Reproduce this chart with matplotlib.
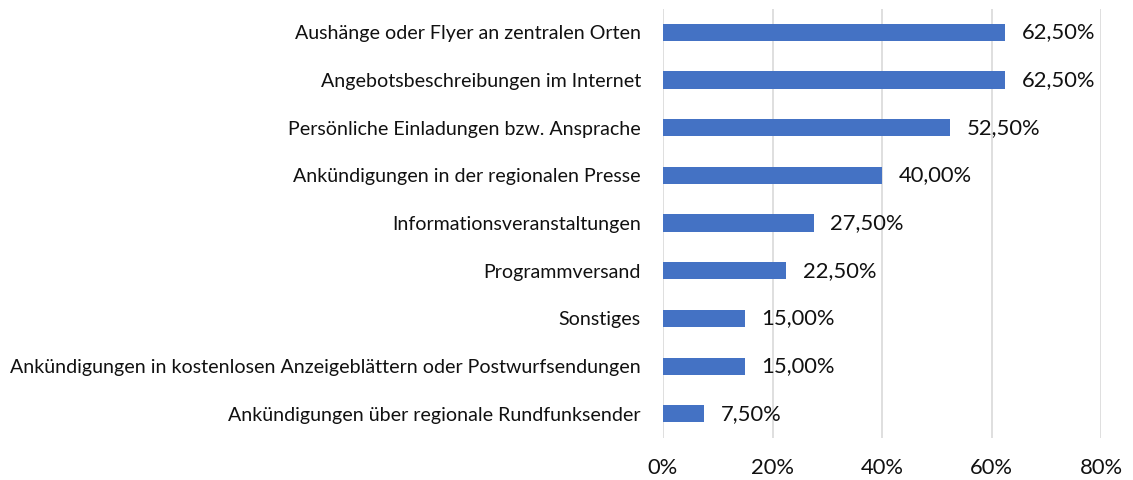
import matplotlib
matplotlib.use("Agg")
import matplotlib.pyplot as plt
from matplotlib.ticker import FixedLocator, FixedFormatter

categories = [
    "Aushänge oder Flyer an zentralen Orten",
    "Angebotsbeschreibungen im Internet",
    "Persönliche Einladungen bzw. Ansprache",
    "Ankündigungen in der regionalen Presse",
    "Informationsveranstaltungen",
    "Programmversand",
    "Sonstiges",
    "Ankündigungen in kostenlosen Anzeigeblättern oder Postwurfsendungen",
    "Ankündigungen über regionale Rundfunksender",
]
values = [62.5, 62.5, 52.5, 40.0, 27.5, 22.5, 15.0, 15.0, 7.5]
xticks = [0, 20, 40, 60, 80]
xtick_labels = ["0%", "20%", "40%", "60%", "80%"]

plt.rcParams['font.family'] = ['Lato', 'DejaVu Sans']

fig = plt.figure(figsize=(11.33, 4.8), dpi=100)
ax = fig.add_axes([663/1133, 1-437.6/480, (1101-663)/1133, (437.6-8.5)/480])

ypos = list(range(len(categories)))
ax.barh(ypos, values, height=0.36, color="#4472C4", zorder=3)
for y, v in zip(ypos, values):
    ax.text(v + 3.0, y, f"{v:.2f}%".replace(".", ","), va="center", ha="left",
            fontsize=15.8, color="#111111")

ax.set_xlim(0, 80)
ax.set_ylim(len(categories) - 0.5, -0.5)
ax.set_yticks(ypos)
ax.set_yticklabels(categories, fontsize=14.15, color="#111111")
ax.xaxis.set_major_locator(FixedLocator(xticks))
ax.xaxis.set_major_formatter(FixedFormatter(xtick_labels))
ax.tick_params(axis="x", labelsize=15.8, length=0, pad=15, colors="#111111")
ax.tick_params(axis="y", length=0, pad=16)
ax.grid(axis="x", color="#d9d9d9", linewidth=1.2, zorder=0)
for s in ax.spines.values():
    s.set_visible(False)

fig.savefig("out.png", dpi=100)
